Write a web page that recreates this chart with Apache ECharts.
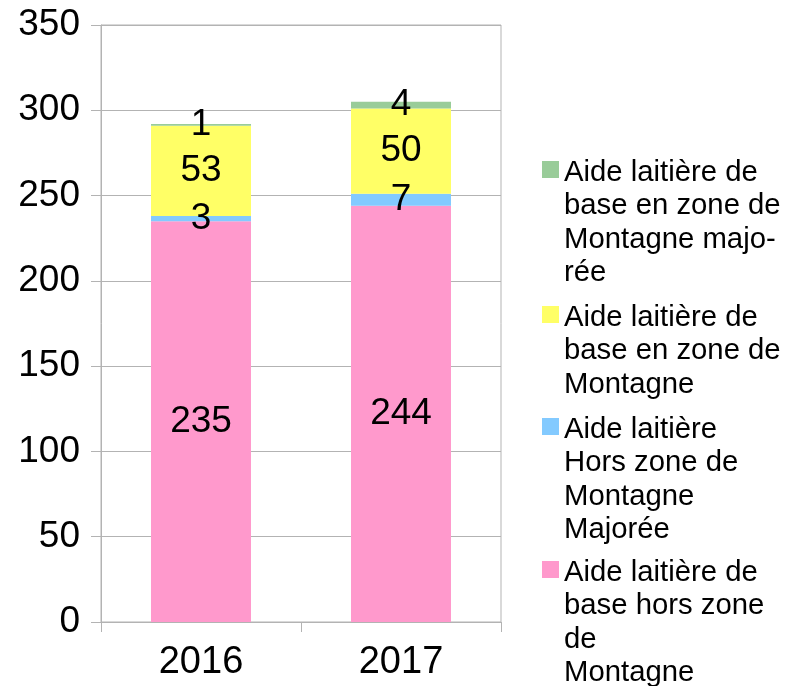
<!DOCTYPE html>
<html>
<head>
<meta charset="utf-8">
<script src="https://cdn.jsdelivr.net/npm/echarts@6/dist/echarts.min.js"></script>
<style>
  html, body { margin: 0; padding: 0; background: #fff; }
  #chart { width: 786px; height: 686px; }
</style>
</head>
<body>
<div id="chart"></div>
<script>
// données
const years = ['2016', '2017'];
const baseHorsZone = [235, 244];
const horsZoneMajoree = [3, 7];
const baseMontagne = [53, 50];
const montagneMajoree = [1, 4];

const names = [
  'Aide laitière de\nbase hors zone\nde\nMontagne',
  'Aide laitière\nHors zone de\nMontagne\nMajorée',
  'Aide laitière de\nbase en zone de\nMontagne',
  'Aide laitière de\nbase en zone de\nMontagne majo-\nrée'
];
const colors = ['#ff99cc', '#83caff', '#ffff66', '#99cc99'];
const values = [baseHorsZone, horsZoneMajoree, baseMontagne, montagneMajoree];

const FONT = 'Liberation Sans';
const LINE_H = 33.5;

const chart = echarts.init(document.getElementById('chart'));

// une légende par série, icône carrée alignée sur la première ligne
const legendTops = [556, 413, 301, 156];
const legends = names.map(function (name, i) {
  const h = name.split('\n').length * LINE_H;
  return {
    show: true,
    orient: 'vertical',
    left: 542,
    top: legendTops[i],
    padding: 0,
    itemWidth: 17,
    itemHeight: h,
    selectedMode: false,
    icon: 'path://M0,0L0,0M0,5h17v17h-17zM0,' + h + 'L0,' + h,
    data: [name],
    textStyle: {
      fontFamily: FONT,
      fontSize: 29.3,
      lineHeight: LINE_H,
      color: '#000'
    }
  };
});

chart.setOption({
  animation: false,
  color: colors,
  grid: {
    left: 101,
    right: 285,
    top: 25,
    bottom: 64,
    show: true,
    borderColor: '#b3b3b3',
    borderWidth: 1,
    outerBoundsMode: 'none'
  },
  legend: legends,
  xAxis: {
    type: 'category',
    data: years,
    axisLine: { lineStyle: { color: '#b3b3b3' } },
    axisTick: { show: true, length: 10, lineStyle: { color: '#b3b3b3' } },
    axisLabel: { fontFamily: FONT, fontSize: 38, color: '#000', margin: 22 },
    splitLine: { show: false }
  },
  yAxis: {
    type: 'value',
    min: 0,
    max: 350,
    interval: 50,
    axisLine: { show: true, lineStyle: { color: '#b3b3b3' } },
    axisTick: { show: true, length: 10, lineStyle: { color: '#b3b3b3' } },
    axisLabel: { fontFamily: FONT, fontSize: 37, color: '#000', margin: 21 },
    splitLine: { show: true, lineStyle: { color: '#b3b3b3' } }
  },
  series: names.map(function (name, i) {
    return {
      name: name,
      type: 'bar',
      stack: 'total',
      barWidth: 100,
      data: values[i],
      itemStyle: { color: colors[i] },
      label: {
        show: true,
        position: 'inside',
        fontFamily: FONT,
        fontSize: 37,
        color: '#000',
        textBorderWidth: 0
      }
    };
  })
});
</script>
</body>
</html>
